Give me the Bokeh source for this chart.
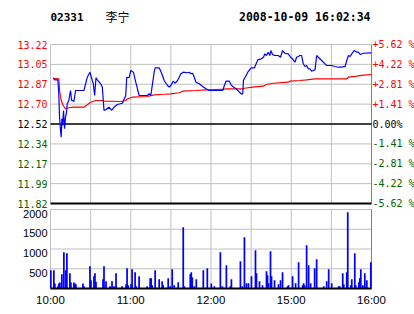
from bokeh.plotting import figure
from bokeh.models import Range1d
from bokeh.core.properties import value
from bokeh.embed import file_html
from bokeh.resources import INLINE

# ---- data ----
code = "02331"
name = "李宁"
stamp = "2008-10-09 16:02:34"

# minutes after 10:00 on a continuous session axis (10:00-12:30, 14:30-16:00)
price_t = [2.0, 3.2, 5.5, 6.2, 6.75, 7.5, 8.0, 8.5, 9.0, 9.75, 10.5, 11.25, 12.0, 12.5, 13.7, 14.5, 15.0,
           15.75, 16.5, 17.5, 18.75, 25.0, 26.25, 27.5, 29.5, 31.25, 32.0, 33.0, 34.0, 35.0, 37.5, 38.75,
           40.0, 41.25, 43.75, 45.75, 47.5, 50.0, 53.75, 56.25, 57.0, 58.75, 60.0, 62.0, 63.75, 66.25,
           72.5, 73.75, 75.0, 76.25, 77.5, 78.25, 81.25, 83.25, 85.0, 87.5, 88.75, 90.0, 91.75, 93.25,
           95.0, 97.5, 99.25, 102.5, 103.75, 105.0, 106.25, 107.5, 108.75, 111.25, 113.75, 116.25,
           118.75, 128.75, 130.0, 131.25, 133.75, 135.0, 136.25, 138.75, 141.25, 142.5, 143.75, 144.25,
           146.25, 147.5, 150.0, 152.5, 153.75, 155.0, 157.5, 159.25, 160.25, 161.5, 162.75, 164.0,
           164.75, 166.0, 167.5, 170.25, 172.0, 173.5, 175.25, 177.75, 179.5, 181.0, 182.75, 184.0,
           185.25, 186.5, 187.75, 189.0, 190.25, 191.5, 192.75, 194.0, 195.25, 196.5, 197.75, 199.0,
           200.25, 202.75, 205.25, 206.5, 210.25, 212.75, 215.25, 217.75, 219.0, 220.25, 221.5, 222.75,
           224.0, 225.25, 227.0, 229.0, 230.25, 231.5, 234.0, 239.0, 239.75]
price_v = [12.923, 12.909, 12.909, 12.786, 12.580, 12.463, 12.404, 12.566, 12.507, 12.639, 12.478,
           12.580, 12.624, 12.698, 12.727, 12.786, 12.815, 12.727, 12.727, 12.718, 12.815, 12.815,
           12.874, 12.932, 12.976, 12.903, 12.874, 12.771, 12.927, 12.909, 12.874, 12.844, 12.639,
           12.645, 12.668, 12.639, 12.668, 12.692, 12.703, 12.771, 12.932, 12.927, 12.991, 12.976,
           12.888, 12.771, 12.771, 12.786, 12.771, 12.874, 12.976, 13.015, 13.015, 12.962, 12.903,
           12.859, 12.844, 12.859, 12.897, 12.879, 12.903, 12.962, 12.976, 12.971, 12.976, 12.962,
           12.967, 12.932, 12.888, 12.874, 12.850, 12.830, 12.815, 12.815, 12.859, 12.897, 12.897,
           12.865, 12.850, 12.830, 12.800, 12.786, 12.786, 12.903, 12.947, 12.976, 13.015, 13.015,
           13.050, 13.085, 13.094, 13.108, 13.138, 13.123, 13.152, 13.123, 13.167, 13.132, 13.123,
           13.123, 13.108, 13.167, 13.143, 13.138, 13.108, 13.094, 13.064, 13.108, 13.114, 13.123,
           13.123, 13.050, 13.026, 13.035, 13.006, 13.006, 12.985, 12.991, 12.997, 13.123, 13.108,
           13.079, 13.050, 13.035, 13.035, 13.026, 13.020, 13.020, 13.026, 13.026, 13.079, 13.123,
           13.114, 13.138, 13.167, 13.152, 13.152, 13.132, 13.143, 13.147, 13.147]

avg_t = [2.0, 6.2, 6.75, 8.0, 9.5, 11.25, 13.7, 17.5, 25.0, 27.5, 30.0, 33.75, 38.75, 40.0, 52.5, 56.25,
         57.5, 61.25, 72.5, 77.5, 85.0, 90.0, 96.25, 98.75, 108.75, 116.25, 128.75, 131.25, 143.75,
         145.0, 151.25, 159.0, 161.5, 166.5, 177.75, 179.0, 186.5, 191.5, 197.75, 221.5, 222.75, 229.0,
         234.0, 239.75]
avg_v = [12.923, 12.918, 12.815, 12.727, 12.683, 12.654, 12.663, 12.668, 12.668, 12.689, 12.712, 12.727,
         12.727, 12.721, 12.718, 12.727, 12.742, 12.756, 12.762, 12.777, 12.782, 12.786, 12.795, 12.809,
         12.815, 12.821, 12.824, 12.830, 12.830, 12.835, 12.844, 12.853, 12.868, 12.879, 12.888, 12.897,
         12.903, 12.909, 12.918, 12.918, 12.932, 12.941, 12.950, 12.956]

vol_t = [0.25, 2.5, 3.25, 5.5, 6.25, 7.0, 8.5, 10.0, 11.5, 12.25, 14.5, 15.25, 17.5, 18.25, 19.0, 24.25,
         25.0, 29.5, 30.25, 32.5, 33.25, 34.0, 39.25, 40.0, 41.5, 44.5, 46.0, 47.5, 49.0, 53.5, 56.5,
         57.25, 58.0, 60.25, 61.0, 63.25, 64.0, 66.25, 72.25, 74.5, 75.25, 76.0, 78.25, 81.25, 83.5,
         84.25, 88.0, 89.5, 91.0, 92.5, 95.5, 99.25, 100.0, 104.5, 105.25, 106.0, 107.5, 109.0, 114.25,
         117.25, 120.25, 122.5, 127.0, 128.5, 131.5, 134.5, 135.25, 142.0, 143.5, 145.0, 146.5, 148.0,
         150.25, 153.25, 154.0, 156.25, 158.5, 161.5, 162.25, 163.0, 164.5, 165.25, 167.5, 170.5, 172.0,
         173.5, 177.25, 178.0, 181.0, 183.25, 185.5, 188.5, 189.25, 190.0, 191.5, 193.0, 194.5, 197.5,
         199.0, 204.25, 206.5, 208.0, 210.25, 215.5, 216.25, 218.5, 219.25, 221.5, 222.25, 224.5,
         225.25, 227.5, 228.25, 230.5, 231.25, 232.0, 233.5, 235.0, 236.5, 239.5]
vol_v = [463, 463, 126, 58, 126, 152, 362, 918, 463, 893, 387, 152, 152, 126, 109, 126,
         58, 564, 210, 311, 387, 168, 235, 564, 185, 58, 185, 58, 387, 58, 109,
         513, 84, 109, 488, 412, 58, 311, 58, 261, 261, 84, 463, 235, 185,
         84, 261, 58, 488, 84, 160, 1551, 58, 362, 412, 286, 58, 235, 463,
         513, 126, 58, 918, 58, 590, 58, 235, 691, 58, 1298, 134, 134,
         311, 969, 387, 185, 84, 438, 337, 134, 944, 311, 210, 109, 210,
         412, 58, 84, 311, 134, 665, 84, 134, 84, 1096, 590, 134, 513,
         741, 58, 185, 488, 134, 58, 58, 387, 109, 412, 1930, 84,
         235, 893, 84, 160, 261, 488, 84, 387, 210, 665]

price_ticks = [13.22, 13.045, 12.87, 12.695, 12.52, 12.345, 12.17, 11.995, 11.82]
price_labels = ["13.22", "13.05", "12.87", "12.70", "12.52", "12.34", "12.17", "11.99", "11.82"]
pct_labels = ["+5.62 %", "+4.22 %", "+2.81 %", "+1.41 %", " 0.00%", "-1.41 %", "-2.81 %", "-4.22 %", "-5.62 %"]
label_colors = ["#ff0000"] * 4 + ["#000000"] + ["#006400"] * 4

vol_ticks = [500, 1000, 1500, 2000]
vol_labels = ["500", "1000", "1500", "2000"]

time_grid = [30, 60, 90, 120, 150, 180, 210]
time_ticks = [0, 60, 120, 180, 240]
time_labels = ["10:00", "11:00", "12:00", "15:00", "16:00"]

# ---- layout geometry (pixels) ----
W, H = 414, 314
LEFT, RIGHT = 50, 371
PTOP, PBOT = 44, 203
VTOP, VBOT = 209, 288
T0, T1 = 0, 240
P0, P1 = price_ticks[-1], price_ticks[0]
V0, V1 = 0, vol_ticks[-1]

xs = (T1 - T0) / (RIGHT - LEFT)
ps = (P1 - P0) / (PBOT - PTOP)
vs = (V1 - V0) / (VBOT - VTOP)

GRID = "#c0c0c0"
EDGE = "#808080"
MONO = "DejaVu Sans Mono"
SANS = "Liberation Sans"

p = figure(width=W, height=H,
           x_range=Range1d(T0 - LEFT * xs, T1 + (W - RIGHT) * xs),
           y_range=Range1d(P0 - (H - PBOT) * ps, P1 + PTOP * ps),
           x_axis_type=None, y_axis_type=None, toolbar_location=None, output_backend="svg",
           min_border=0, min_border_left=0, min_border_right=0, min_border_top=0, min_border_bottom=0)
p.extra_y_ranges = {"vol": Range1d(V0 - (H - VBOT) * vs, V1 + VTOP * vs)}
p.outline_line_color = None
p.background_fill_color = "white"
p.border_fill_color = "white"

# ---- price panel frame & grid ----
inner_p = price_ticks[1:4] + price_ticks[5:8]
p.segment(x0=[T0] * len(inner_p), x1=[T1] * len(inner_p), y0=inner_p, y1=inner_p, line_color=GRID, line_width=1)
p.segment(x0=time_grid, x1=time_grid, y0=[P0] * len(time_grid), y1=[P1] * len(time_grid), line_color=GRID, line_width=1)
p.segment(x0=[T0, T0], x1=[T1, T0], y0=[P1, P0], y1=[P1, P1], line_color=GRID, line_width=1)
p.segment(x0=[T1], x1=[T1], y0=[P0], y1=[P1], line_color=EDGE, line_width=1)
p.segment(x0=[T0], x1=[T1], y0=[price_ticks[4]], y1=[price_ticks[4]], line_color="black", line_width=1.3)
p.segment(x0=[T0], x1=[T1], y0=[P0], y1=[P0], line_color="black", line_width=2)

p.line(avg_t, avg_v, line_color="#ff0000", line_width=1.2)
p.line(price_t, price_v, line_color="#0000ff", line_width=1.2)

# ---- volume panel frame & grid ----
inner_v = vol_ticks[:-1]
p.segment(x0=[T0] * len(inner_v), x1=[T1] * len(inner_v), y0=inner_v, y1=inner_v,
          line_color=GRID, line_width=1, y_range_name="vol")
p.segment(x0=time_grid, x1=time_grid, y0=[V0] * len(time_grid), y1=[V1] * len(time_grid),
          line_color=GRID, line_width=1, y_range_name="vol")
p.segment(x0=[T0, T0], x1=[T1, T0], y0=[V1, V0], y1=[V1, V1], line_color=GRID, line_width=1, y_range_name="vol")
p.segment(x0=[T1], x1=[T1], y0=[V0], y1=[V1], line_color=EDGE, line_width=1, y_range_name="vol")

p.vbar(x=vol_t, top=vol_v, bottom=0, width=1.3, fill_color="#0000ff", line_color=None, y_range_name="vol")
p.segment(x0=[T0], x1=[T1], y0=[V0], y1=[V0], line_color="black", line_width=2, y_range_name="vol")

# ---- texts ----
p.text(x=[T0] * len(price_ticks), y=price_ticks, text=price_labels, text_color=label_colors,
       text_align="right", text_baseline="middle", x_offset=-3,
       text_font=value(MONO), text_font_size="10px")
p.text(x=[T1] * len(price_ticks), y=price_ticks, text=pct_labels, text_color=label_colors,
       text_align="left", text_baseline="middle", x_offset=1,
       text_font=value(MONO), text_font_size="10px")
p.text(x=[T0] * len(vol_ticks), y=vol_ticks, text=vol_labels, text_color="black",
       text_align="right", text_baseline="middle", x_offset=-3, y_offset=4,
       text_font=value(SANS), text_font_size="11px", y_range_name="vol")
p.text(x=time_ticks, y=[V0] * len(time_ticks), text=time_labels, text_color="black",
       text_align="center", text_baseline="top", y_offset=5,
       text_font=value(SANS), text_font_size="11.5px", y_range_name="vol")

p.text(x=[T0], y=[P1], text=[code], text_align="left", text_baseline="middle", y_offset=-28,
       text_font=value(MONO), text_font_size="11px", text_font_style="bold", text_color="black")
p.text(x=[T0], y=[P1], text=[name], text_align="left", text_baseline="middle", y_offset=-28, x_offset=55,
       text_font=value("Noto Sans CJK SC"), text_font_size="12px", text_color="black")
p.text(x=[T1], y=[P1], text=[stamp], text_align="right", text_baseline="middle", y_offset=-28, x_offset=-1,
       text_font=value(MONO), text_font_size="11.5px", text_font_style="bold", text_color="black")

open("out.html", "w").write(file_html(p, INLINE))
